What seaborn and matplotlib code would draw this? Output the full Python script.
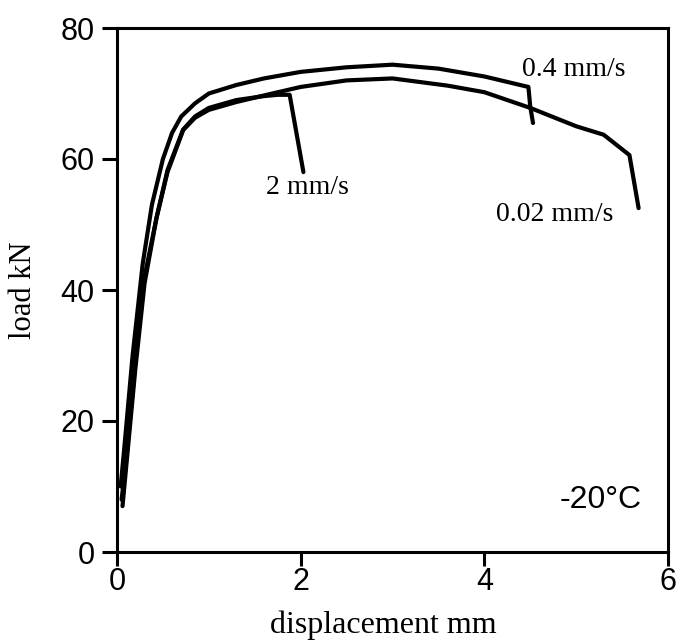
import matplotlib
matplotlib.use("Agg")
import matplotlib.pyplot as plt
import seaborn as sns
import pandas as pd

sns.set_theme(style="white")
plt.rcParams['font.family'] = ['Liberation Serif', 'DejaVu Serif']
plt.rcParams['text.color'] = 'black'
plt.rcParams['axes.labelcolor'] = 'black'
plt.rcParams['xtick.color'] = 'black'
plt.rcParams['ytick.color'] = 'black'

# 0.4 mm/s
x_04 = [0.04, 0.08, 0.17, 0.28, 0.38, 0.5, 0.6, 0.7, 0.85, 1.0, 1.3, 1.6, 2.0, 2.5, 3.0, 3.5, 4.0, 4.48, 4.5, 4.53]
y_04 = [10, 16, 30, 44, 53, 60, 64, 66.5, 68.5, 70, 71.3, 72.3, 73.3, 74, 74.4, 73.8, 72.6, 71, 68, 65.5]
# 0.02 mm/s
x_002 = [0.06, 0.1, 0.2, 0.3, 0.43, 0.55, 0.72, 0.85, 1.0, 1.3, 1.63, 2.0, 2.5, 3.0, 3.6, 4.0, 4.5, 5.0, 5.3, 5.58, 5.68]
y_002 = [7, 13, 28, 41, 51, 58, 64.4, 66.3, 67.5, 68.7, 69.8, 71, 72, 72.3, 71.2, 70.2, 67.8, 65, 63.7, 60.6, 52.5]
# 2 mm/s
x_2 = [0.05, 0.1, 0.2, 0.3, 0.43, 0.55, 0.72, 0.85, 1.0, 1.3, 1.6, 1.75, 1.88, 2.03]
y_2 = [8, 14, 29, 42, 51, 58.3, 64.5, 66.5, 67.8, 69.0, 69.6, 69.8, 69.8, 58]

rates = ["0.4 mm/s", "0.02 mm/s", "2 mm/s"]
x_ticks = [0, 2, 4, 6]
y_ticks = [0, 20, 40, 60, 80]

frames = []
for r, xs, ys in zip(rates, [x_04, x_002, x_2], [y_04, y_002, y_2]):
    frames.append(pd.DataFrame({"x": xs, "y": ys, "rate": r}))
df = pd.concat(frames, ignore_index=True)

fig = plt.figure(figsize=(6.77, 6.43), dpi=100)
ax = fig.add_axes([117/677, 1-552/643, (668-117)/677, (552-28)/643])

sns.lineplot(data=df, x="x", y="y", hue="rate", units="rate", estimator=None,
             sort=False, palette=["black"]*3, legend=False, lw=3.0, ax=ax)

sans = ['Liberation Sans', 'DejaVu Sans']
ax.set_xlim(0, 6)
ax.set_ylim(0, 80)
ax.set_xticks(x_ticks)
ax.set_yticks(y_ticks)
ax.set_xticklabels([str(v) for v in x_ticks], fontsize=22, family=sans)
ax.set_yticklabels([str(v) for v in y_ticks], fontsize=22, family=sans)
ax.tick_params(axis='y', direction='out', length=11, width=2.2, pad=5, left=True)
ax.tick_params(axis='x', direction='out', length=10, width=2.2, pad=1, bottom=True)
for s in ax.spines.values():
    s.set_color('black')
    s.set_linewidth(2.2)
ax.set_xlabel("displacement mm", fontsize=23)
ax.set_ylabel("load kN", fontsize=22)
ax.xaxis.set_label_coords((383-117)/551, -(610-552)/524)
ax.yaxis.set_label_coords(-(117-38)/551, 0.5)

ax.text(4.97, 73.6, "0.4 mm/s", fontsize=20, ha='center', va='center')
ax.text(2.07, 55.6, "2 mm/s", fontsize=20, ha='center', va='center')
ax.text(4.77, 51.5, "0.02 mm/s", fontsize=20, ha='center', va='center')
ax.text(5.27, 8.0, "-20\u00b0C", fontsize=23, ha='center', va='center',
        family=['Liberation Sans Narrow', 'Liberation Sans', 'DejaVu Sans'])

fig.savefig("out.png", dpi=100)
